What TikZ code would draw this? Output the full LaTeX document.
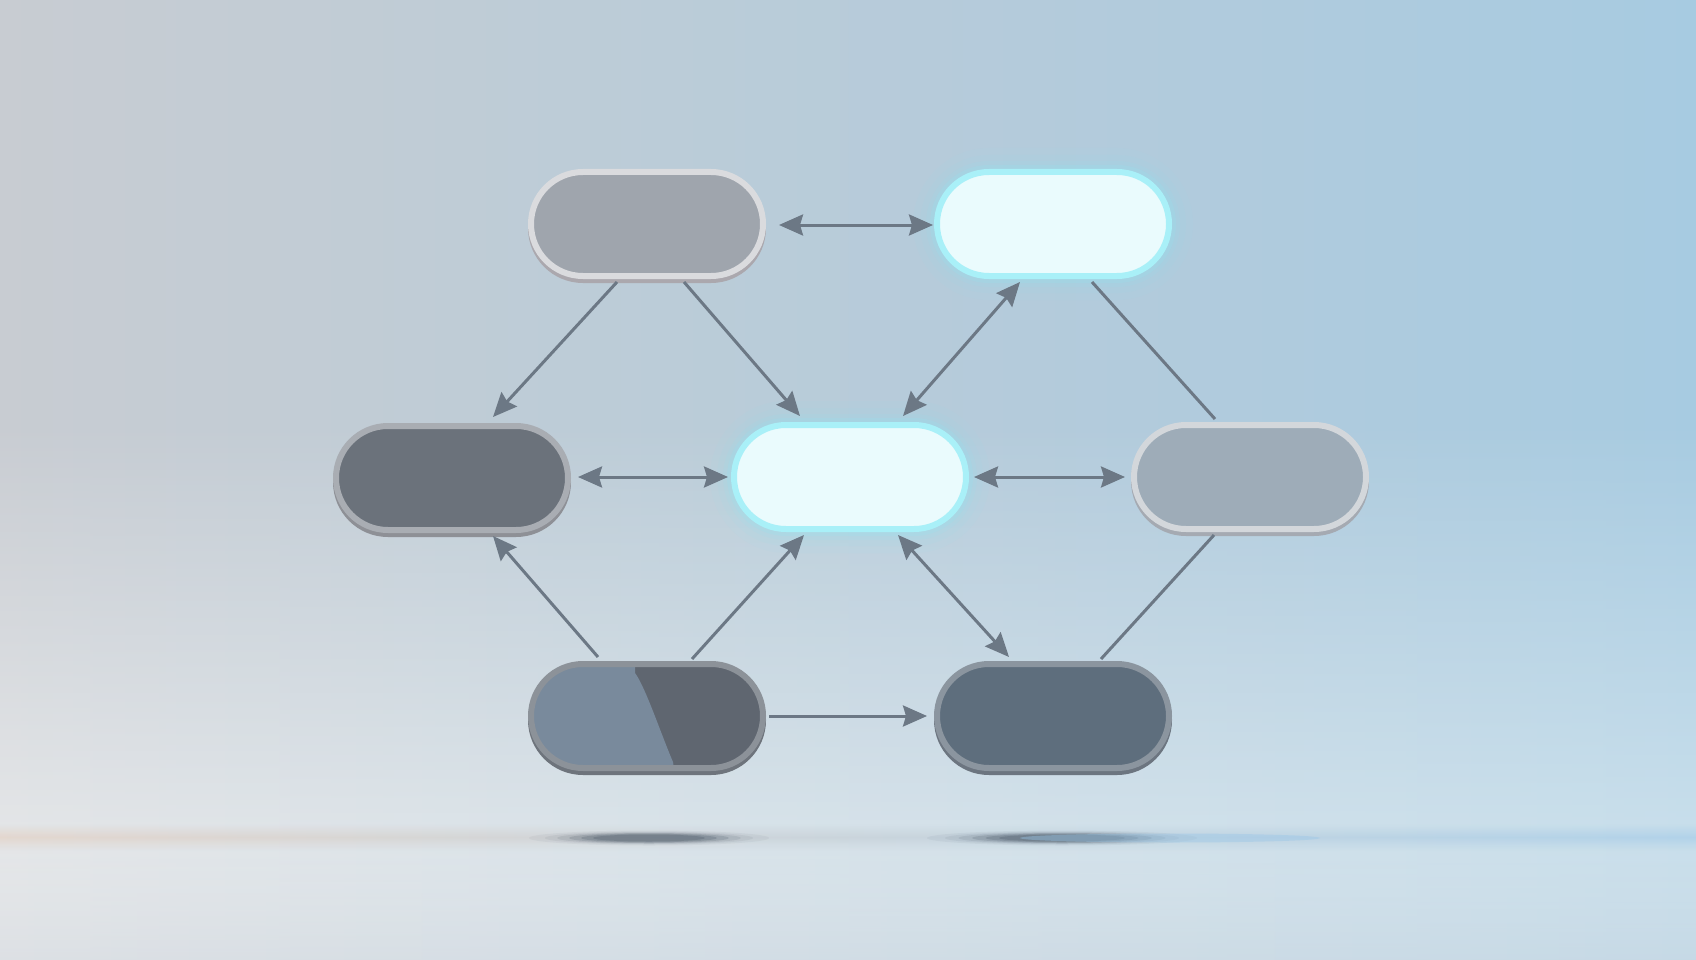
\documentclass[tikz,border=0pt]{standalone}
\usetikzlibrary{shapes.misc,arrows.meta,calc,fadings}
\definecolor{bgL}{HTML}{C8CCD2}
\definecolor{bgM}{HTML}{BCC6CF}
\definecolor{bgR}{HTML}{A7CBE1}
\definecolor{lowL}{HTML}{EDEEEF}
\definecolor{lowR}{HTML}{D3E5EF}
\definecolor{floorL}{HTML}{D9DDE2}
\definecolor{floorR}{HTML}{C3D7E4}
\definecolor{hzO}{HTML}{E2C6B2}
\definecolor{hzM}{HTML}{D6DCE2}
\definecolor{hzB}{HTML}{98C6E8}
\definecolor{shd}{HTML}{4E5C6A}
\definecolor{arrowc}{HTML}{6C7885}
\definecolor{tlfill}{HTML}{9FA5AD}
\definecolor{tlrim}{HTML}{DADBDE}
\definecolor{tlshade}{HTML}{ABA8AE}
\definecolor{mlfill}{HTML}{6B727B}
\definecolor{mlrim}{HTML}{A9ADB3}
\definecolor{mlshade}{HTML}{8E9096}
\definecolor{mrfill}{HTML}{9EACB8}
\definecolor{mrrim}{HTML}{D3D7DB}
\definecolor{mrshade}{HTML}{A5AAB2}
\definecolor{blfill}{HTML}{5F6670}
\definecolor{bllight}{HTML}{798A9C}
\definecolor{blrim}{HTML}{8C9299}
\definecolor{blshade}{HTML}{6E747C}
\definecolor{brfill}{HTML}{5E6E7D}
\definecolor{brrim}{HTML}{8B959F}
\definecolor{brshade}{HTML}{6C7580}
\definecolor{glowfill}{HTML}{EAFBFD}
\definecolor{glowrim}{HTML}{A9F0F8}
\definecolor{glowc}{HTML}{8EE6F5}
\tikzfading[name=bandfade, top color=transparent!100, bottom color=transparent!100, middle color=transparent!15]
\tikzset{
  pill/.style={rounded rectangle, minimum width=232pt, minimum height=104pt, inner sep=0pt, line width=6pt},
  plainpill/.style={pill, fill=#1fill, draw=#1rim,
    preaction={draw=#1shade, fill=#1shade, line width=6pt, transform canvas={yshift=-4pt}}},
  glowpill/.style={pill, fill=glowfill, draw=glowrim,
    preaction={draw=glowc, line width=48pt, opacity=0.05},
    preaction={draw=glowc, line width=34pt, opacity=0.07},
    preaction={draw=glowc, line width=22pt, opacity=0.11},
    preaction={draw=glowc, line width=14pt, opacity=0.18}},
  link/.style={draw=arrowc, line width=3pt},
  headone/.style={-{Stealth[length=24pt,width=21pt,inset=3pt]}},
  headtwo/.style={{Stealth[length=24pt,width=21pt,inset=3pt]}-{Stealth[length=24pt,width=21pt,inset=3pt]}}
}
\begin{document}
\begin{tikzpicture}[x=1pt,y=-1pt]
\useasboundingbox (0,0) rectangle (1696,960);
% background
\shade[left color=bgL, middle color=bgM, right color=bgR] (-5,-5) rectangle (1701,965);
\shade[left color=lowL, right color=lowR, path fading=north] (-5,420) rectangle (1701,965);
\shade[left color=floorL, right color=floorR, path fading=north, opacity=0.85] (-5,845) rectangle (1701,965);
\shade[left color=hzO, middle color=hzM, right color=hzB, path fading=bandfade, opacity=0.55] (-5,824) rectangle (1701,850);
% floor shadows
\foreach \s/\o in {1.5/0.06, 1.3/0.08, 1.15/0.12, 1.0/0.2, 0.85/0.25, 0.7/0.3}{
  \fill[shd, opacity=\o] (649,838) ellipse [x radius=\s*80, y radius=\s*5];
  \fill[shd, opacity=\o] (1062,838) ellipse [x radius=\s*90, y radius=\s*5];
}
\fill[hzB, opacity=0.4] (1170,838) ellipse [x radius=150, y radius=4.5];
% nodes
\node[plainpill=tl] (tl) at (647,224) {};
\node[glowpill] (tr) at (1053,224) {};
\node[plainpill=ml] (ml) at (452,478) {};
\node[glowpill] (mc) at (850,477) {};
\node[plainpill=mr] (mr) at (1250,477) {};
\node[plainpill=bl, path picture={
  \fill[bllight] ($(path picture bounding box.center)+(-140pt,60pt)$) -- ($(path picture bounding box.center)+(-12pt,60pt)$)
    -- ($(path picture bounding box.center)+(-12pt,43pt)$)
    .. controls ($(path picture bounding box.center)+(-2pt,30pt)$) and ($(path picture bounding box.center)+(14pt,-18pt)$) .. ($(path picture bounding box.center)+(26pt,-46pt)$)
    -- ($(path picture bounding box.center)+(28pt,-60pt)$) -- ($(path picture bounding box.center)+(-140pt,-60pt)$) -- cycle;
}] (bl) at (647,716) {};
\node[plainpill=br] (br) at (1053,716) {};
% connectors
\draw[link, headtwo] ($(tl.east)+(13,1)$) -- ($(tr.west)+(-1,1)$);
\draw[link, headone] ($(tl.south)+(-30,3)$) -- ($(ml.north)+(41,-6)$);
\draw[link, headone] ($(tl.south)+(37,3)$) -- ($(mc.north)+(-50,-6)$);
\draw[link, headtwo] ($(tr.south)+(-33,3)$) -- ($(mc.north)+(53,-6)$);
\draw[link] ($(tr.south)+(39,3)$) -- ($(mr.north)+(-35,-3)$);
\draw[link, headtwo] ($(ml.east)+(7,-1)$) -- ($(mc.west)+(-3,0)$);
\draw[link, headtwo] ($(mc.east)+(5,0)$) -- ($(mr.west)+(-6,0)$);
\draw[link, headone] ($(bl.north)+(-49,-4)$) -- ($(ml.south)+(41,3)$);
\draw[link, headone] ($(bl.north)+(45,-2)$) -- ($(mc.south)+(-46,3)$);
\draw[link, headtwo] ($(mc.south)+(48,3)$) -- ($(br.north)+(-44,-4)$);
\draw[link] ($(mr.south)+(-36,3)$) -- ($(br.north)+(48,-2)$);
\draw[link, headone] ($(bl.east)+(3,0)$) -- ($(br.west)+(-7,0)$);
\end{tikzpicture}
\end{document}
